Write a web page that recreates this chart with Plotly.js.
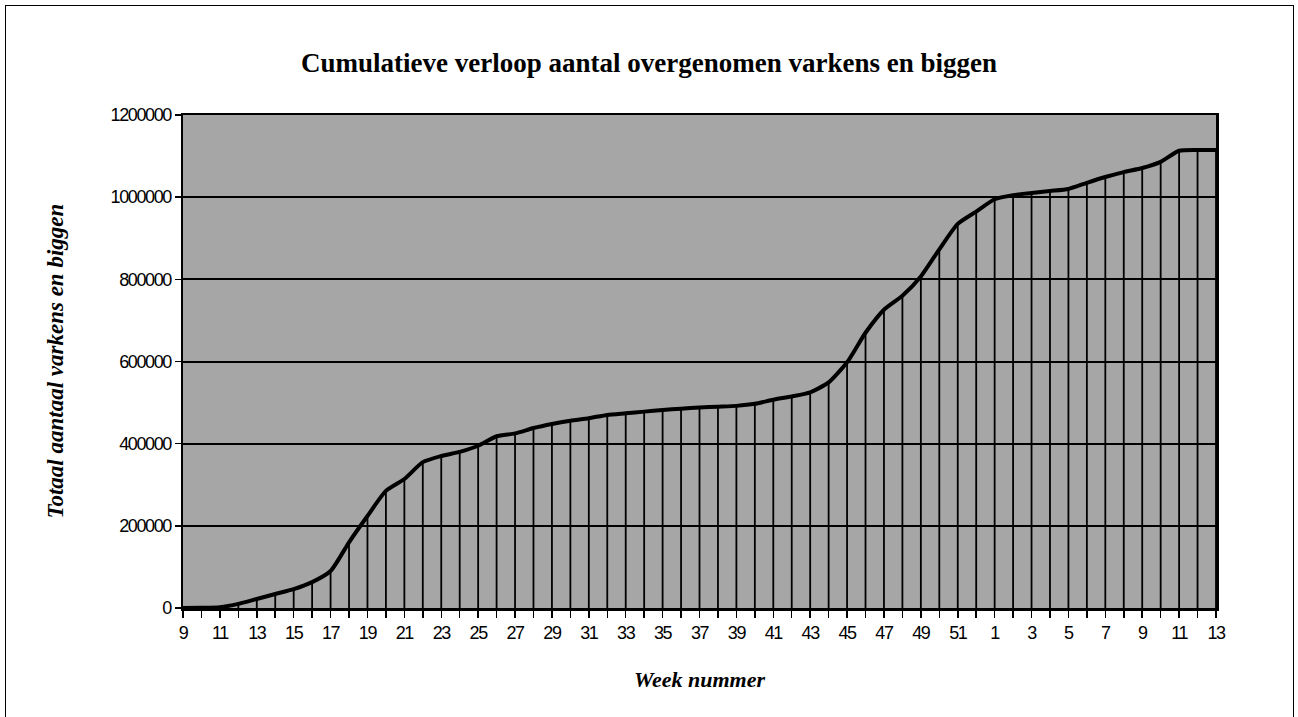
<!DOCTYPE html>
<html>
<head>
<meta charset="utf-8">
<script src="https://cdn.plot.ly/plotly-3.0.1.min.js"></script>
<style>
  html, body { margin: 0; padding: 0; background: #ffffff; }
  #chart { width: 1298px; height: 717px; position: relative; }
  #frame { position: absolute; left: 5px; top: 5px; width: 1287px; height: 720px;
           border-left: 1.5px solid #000; border-right: 1.5px solid #000; border-top: 1.5px solid #000;
           pointer-events: none; }
  #chart .xtick text, #chart .ytick text { letter-spacing: -1.4px; }
</style>
</head>
<body>
<div id="chart"></div>
<div id="frame"></div>
<script>
// Week numbers (week 9 of year 1 through week 13 of the following year)
const weeks = [9,10,11,12,13,14,15,16,17,18,19,20,21,22,23,24,25,26,27,28,29,30,
               31,32,33,34,35,36,37,38,39,40,41,42,43,44,45,46,47,48,49,50,51,52,
               1,2,3,4,5,6,7,8,9,10,11,12,13];
// Cumulative number of pigs and piglets taken over
const cumulative = [0,500,2000,10000,22000,34000,46000,63000,90000,160000,224000,285000,
                    314000,355000,370000,380000,395000,418000,425000,438000,448000,456000,
                    462000,470000,474000,478000,482000,485000,488000,490000,492000,497000,
                    507000,515000,525000,549000,598000,670000,726000,760000,807000,873000,
                    935000,965000,995000,1005000,1010000,1015000,1020000,1035000,1049000,
                    1061000,1071000,1086000,1113000,1115000,1115000];
const yTicks = [0,200000,400000,600000,800000,1000000,1200000];

const idx = weeks.map((w, i) => i);
const tickText = weeks.map((w, i) => (i % 2 === 0 ? String(w) : ''));

const tickFont = { family: 'Liberation Sans, Arial, sans-serif', size: 18, color: '#000000' };
const serif = 'Liberation Serif, Times New Roman, serif';

const trace = {
  x: idx,
  y: cumulative,
  type: 'scatter',
  mode: 'lines',
  line: { color: '#000000', width: 4, shape: 'spline', smoothing: 0.6 },
  error_y: {
    type: 'data',
    symmetric: false,
    array: cumulative.map(() => 0),
    arrayminus: cumulative,
    width: 0,
    thickness: 1.8,
    color: '#000000'
  },
  hoverinfo: 'x+y',
  showlegend: false
};

const layout = {
  width: 1298,
  height: 717,
  margin: { l: 183, r: 82, t: 115, b: 109 },
  paper_bgcolor: '#ffffff',
  plot_bgcolor: '#a6a6a6',
  title: {
    text: 'Cumulatieve verloop aantal overgenomen varkens en biggen',
    font: { family: serif, size: 27, color: '#000000', weight: 'bold' },
    x: 0.5, xanchor: 'center', y: 0.913, yanchor: 'middle'
  },
  xaxis: {
    range: [0, weeks.length - 1],
    tickmode: 'array',
    tickvals: idx,
    ticktext: tickText,
    ticks: 'outside',
    ticklen: 7,
    tickwidth: 1.5,
    tickcolor: '#000000',
    showgrid: false,
    zeroline: false,
    showline: true,
    linecolor: '#000000',
    linewidth: 2.5,
    mirror: true,
    tickangle: 0,
    tickfont: tickFont
  },
  yaxis: {
    range: [0, 1200000],
    tickmode: 'array',
    tickvals: yTicks,
    ticktext: yTicks.map(String),
    ticks: 'outside',
    ticklen: 6,
    tickwidth: 1.5,
    tickcolor: '#000000',
    showgrid: true,
    gridcolor: '#000000',
    gridwidth: 2,
    zeroline: false,
    showline: true,
    linecolor: '#000000',
    linewidth: 2.5,
    mirror: true,
    tickfont: tickFont
  },
  annotations: [
    {
      text: '<b><i>Totaal aantaal varkens en biggen</i></b>',
      xref: 'paper', yref: 'paper',
      x: (55 - 183) / 1033, y: 0.5,
      xanchor: 'center', yanchor: 'middle',
      textangle: -90, showarrow: false,
      font: { family: serif, size: 23, color: '#000000' }
    },
    {
      text: '<b><i>Week nummer</i></b>',
      xref: 'paper', yref: 'paper',
      x: 0.5, y: (608 - 679) / 493,
      xanchor: 'center', yanchor: 'middle',
      showarrow: false,
      font: { family: serif, size: 22, color: '#000000' }
    }
  ]
};

Plotly.newPlot('chart', [trace], layout, { displayModeBar: false, staticPlot: true });
</script>
</body>
</html>
